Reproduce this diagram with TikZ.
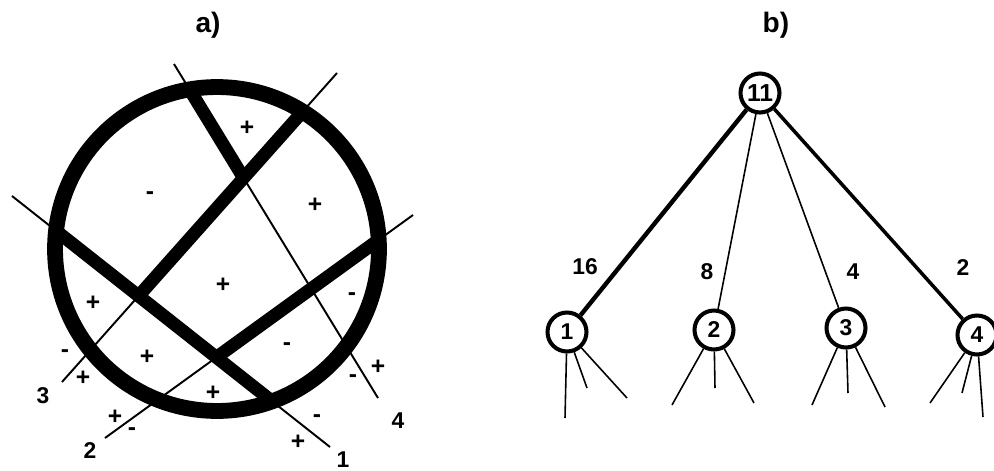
\documentclass[tikz,border=0pt]{standalone}
\usepackage{fontspec}
\setmainfont{Liberation Sans}
\begin{document}
\begin{tikzpicture}[x=0.02cm,y=-0.02cm,
    every node/.style={font=\bfseries\fontsize{13}{13}\selectfont},
    thinline/.style={line width=1.1pt},
    cutline/.style={line width=7.4pt},
    sign/.style={font=\bfseries\fontsize{14}{14}\selectfont},
    tnode/.style={circle,draw,line width=2.3pt,minimum size=0.78cm,inner sep=0pt}]
    \useasboundingbox (0,0) rectangle (994,470);

    % Titles
    \node (ta) at (208,25) {\fontsize{16}{16}\selectfont a)};
    \node (tb) at (776,25) {\fontsize{16}{16}\selectfont b)};

    % Cutting lines of the partition
    \coordinate (l1a) at (12,196);
    \coordinate (l1b) at (330,447);
    \coordinate (l2a) at (105,438);
    \coordinate (l2b) at (413,215);
    \coordinate (l3a) at (62,382);
    \coordinate (l3b) at (337,73);
    \coordinate (l4a) at (174,64);
    \coordinate (l4b) at (378,398);
    \coordinate (p12) at (intersection of l1a--l1b and l2a--l2b);
    \coordinate (p13) at (intersection of l1a--l1b and l3a--l3b);
    \coordinate (p34) at (intersection of l3a--l3b and l4a--l4b);
    \coordinate (c) at (217,249);

    \draw[thinline] (l1a) -- (l1b);
    \draw[thinline] (l2a) -- (l2b);
    \draw[thinline] (l3a) -- (l3b);
    \draw[thinline] (l4a) -- (l4b);

    % Region boundaries inside the circle
    \begin{scope}
        \clip (c) circle[radius=3.24cm];
        \draw[cutline] (l1a) -- (l1b);
        \draw[cutline] (p12) -- (l2b);
        \draw[cutline] (p13) -- (l3b);
        \draw[cutline] (l4a) -- (p34);
    \end{scope}
    \draw[line width=9pt] (c) circle[radius=3.24cm];

    % Line numbers
    \node (n1) at (343,460) {1};
    \node (n2) at (90,451) {2};
    \node (n3) at (43,396) {3};
    \node (n4) at (398,421) {4};

    % Signs of the regions
    \node[sign] (s1) at (247,128) {+};
    \node[sign] (s2) at (150,196) {-};
    \node[sign] (s3) at (315,205) {+};
    \node[sign] (s4) at (223,285) {+};
    \node[sign] (s5) at (93,303) {+};
    \node[sign] (s6) at (352,297) {-};
    \node[sign] (s7) at (147,357) {+};
    \node[sign] (s8) at (287,347) {-};
    \node[sign] (s9) at (213,393) {+};
    \node[sign] (s10) at (65,354) {-};
    \node[sign] (s11) at (83,378) {+};
    \node[sign] (s12) at (115,417) {+};
    \node[sign] (s13) at (132,432) {-};
    \node[sign] (s14) at (378,367) {+};
    \node[sign] (s15) at (353,379) {-};
    \node[sign] (s16) at (317,419) {-};
    \node[sign] (s17) at (298,442) {+};

    % Search tree
    \node[tnode] (r) at (760,93) {\fontsize{14}{14}\selectfont 11};
    \node[tnode] (k1) at (567,332) {1};
    \node[tnode] (k2) at (714,330) {2};
    \node[tnode] (k3) at (846,328) {3};
    \node[tnode] (k4) at (977,335) {4};

    \draw[line width=2.5pt] (r) -- (k1);
    \draw[line width=0.9pt] (r) -- (k2);
    \draw[line width=0.9pt] (r) -- (k3);
    \draw[line width=2pt] (r) -- (k4);

    \node (w1) at (585,267) {16};
    \node (w2) at (707,272) {8};
    \node (w3) at (853,272) {4};
    \node (w4) at (963,268) {2};

    % Branches below the nodes
    \coordinate (e11) at (565,418);
    \coordinate (e12) at (587,388);
    \coordinate (e13) at (627,398);
    \coordinate (e21) at (672,405);
    \coordinate (e22) at (715,388);
    \coordinate (e23) at (754,403);
    \coordinate (e31) at (812,405);
    \coordinate (e32) at (848,393);
    \coordinate (e33) at (885,407);
    \coordinate (e41) at (930,403);
    \coordinate (e42) at (962,393);
    \coordinate (e43) at (983,417);
    \foreach \k in {1,2,3,4}
        \foreach \j in {1,2,3}
            \draw[line width=0.9pt] (k\k) -- (e\k\j);
\end{tikzpicture}
\end{document}
